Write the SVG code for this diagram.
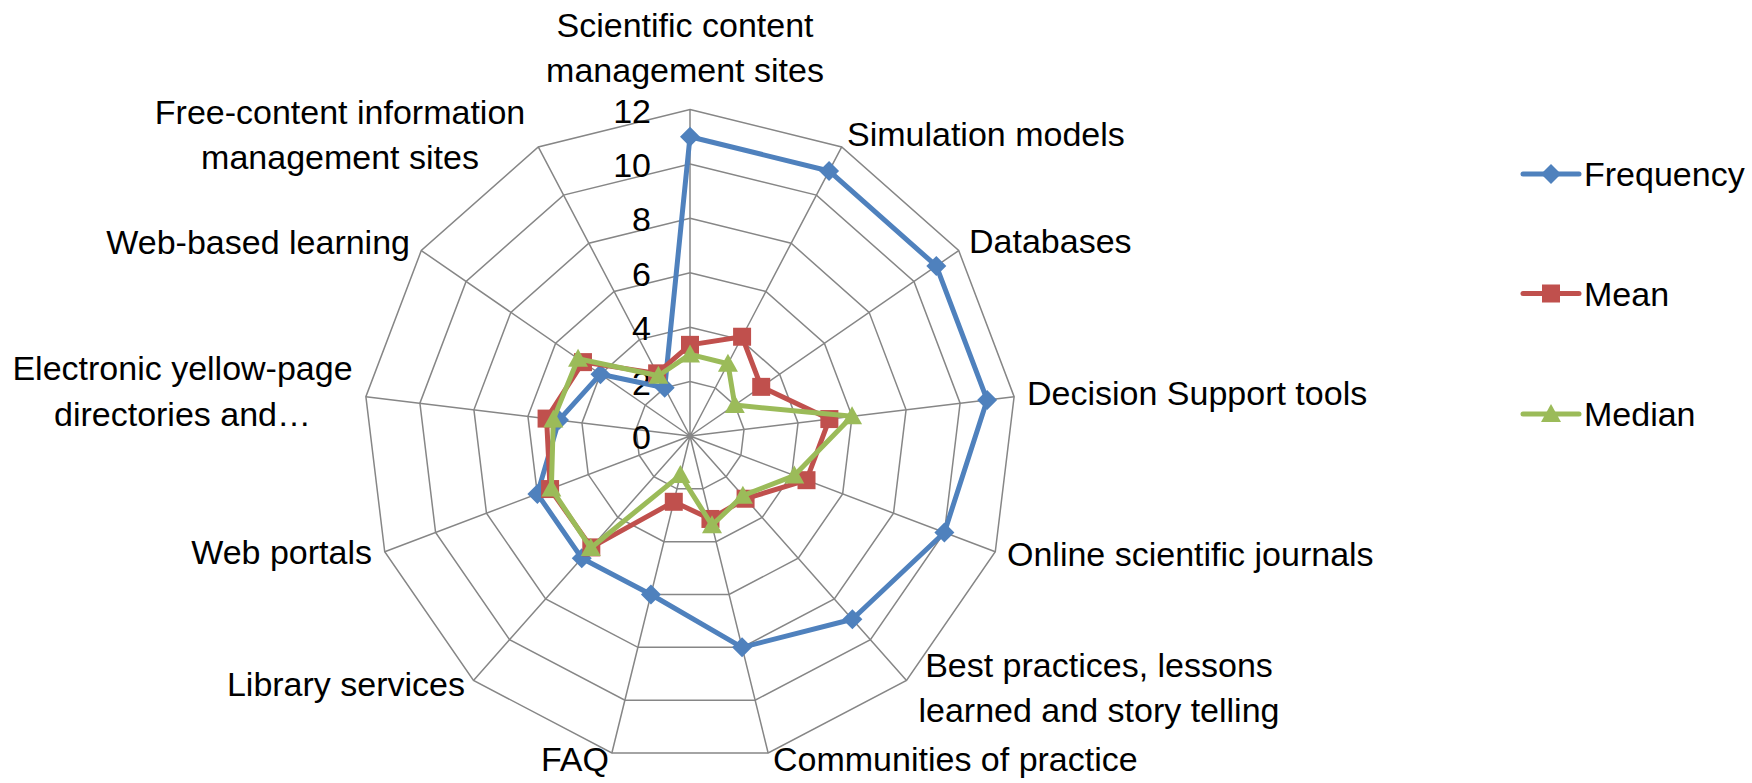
<svg xmlns="http://www.w3.org/2000/svg" xmlns:xlink="http://www.w3.org/1999/xlink" width="1752" height="783" viewBox="0 0 1752 783">
<style>
.t{font-family:"Liberation Sans",Arial,sans-serif;font-size:34px;fill:#000}
.grid{fill:none;stroke:#868686;stroke-width:1.5}
.s{fill:none;stroke-width:5;stroke-linejoin:round;stroke-linecap:round}
</style>
<defs>
<path id="dia" d="M0,-10 L10,0 L0,10 L-10,0Z" fill="#4F81BD"/>
<rect id="sq" x="-9" y="-9" width="18" height="18" fill="#C0504D"/>
<path id="tri" d="M0,-10 L10,8 L-10,8Z" fill="#9BBB59"/>
</defs>
<rect width="1752" height="783" fill="#fff"/>
<g id="grid" class="grid">
<polygon points="690,109.5 841.73,146.9 958.7,250.53 1014.12,396.64 995.28,551.78 906.51,680.39 768.14,753.01 611.86,753.01 473.49,680.39 384.72,551.78 365.88,396.64 421.3,250.53 538.27,146.9"/>
<polygon points="690,163.92 816.44,195.08 913.92,281.44 960.1,403.2 944.4,532.48 870.42,639.66 755.12,700.18 624.88,700.18 509.58,639.66 435.6,532.48 419.9,403.2 466.08,281.44 563.56,195.08"/>
<polygon points="690,218.33 791.15,243.27 869.13,312.35 906.08,409.76 893.52,513.19 834.34,598.93 742.09,647.34 637.91,647.34 545.66,598.93 486.48,513.19 473.92,409.76 510.87,312.35 588.85,243.27"/>
<polygon points="690,272.75 765.87,291.45 824.35,343.26 852.06,416.32 842.64,493.89 798.26,558.2 729.07,594.51 650.93,594.51 581.74,558.2 537.36,493.89 527.94,416.32 555.65,343.26 614.13,291.45"/>
<polygon points="690,327.17 740.58,339.63 779.57,374.18 798.04,422.88 791.76,474.59 762.17,517.46 716.05,541.67 663.95,541.67 617.83,517.46 588.24,474.59 581.96,422.88 600.43,374.18 639.42,339.63"/>
<polygon points="690,381.58 715.29,387.82 734.78,405.09 744.02,429.44 740.88,455.3 726.09,476.73 703.02,488.84 676.98,488.84 653.91,476.73 639.12,455.3 635.98,429.44 645.22,405.09 664.71,387.82"/>
<path d="M690,436 L690,109.5 M690,436 L841.73,146.9 M690,436 L958.7,250.53 M690,436 L1014.12,396.64 M690,436 L995.28,551.78 M690,436 L906.51,680.39 M690,436 L768.14,753.01 M690,436 L611.86,753.01 M690,436 L473.49,680.39 M690,436 L384.72,551.78 M690,436 L365.88,396.64 M690,436 L421.3,250.53 M690,436 L538.27,146.9"/>
</g>
<g id="ticks" class="t" text-anchor="end">
<text x="651" y="122.5">12</text>
<text x="651" y="177">10</text>
<text x="651" y="231.3">8</text>
<text x="651" y="285.8">6</text>
<text x="651" y="340.2">4</text>
<text x="651" y="394.6">2</text>
<text x="651" y="449">0</text>
</g>
<g id="connectors">
<g id="series-frequency">
<polygon class="s" stroke="#4F81BD" points="690,136.71 829.09,170.99 936.31,265.98 987.11,399.92 944.4,532.48 852.38,619.29 742.09,647.34 650.93,594.51 581.74,558.2 537.36,493.89 559,420.09 600.43,374.18 664.71,387.82"/>
<use xlink:href="#dia" x="690" y="136.71"/><use xlink:href="#dia" x="829.09" y="170.99"/><use xlink:href="#dia" x="936.31" y="265.98"/><use xlink:href="#dia" x="987.11" y="399.92"/><use xlink:href="#dia" x="944.4" y="532.48"/><use xlink:href="#dia" x="852.38" y="619.29"/><use xlink:href="#dia" x="742.09" y="647.34"/><use xlink:href="#dia" x="650.93" y="594.51"/><use xlink:href="#dia" x="581.74" y="558.2"/><use xlink:href="#dia" x="537.36" y="493.89"/><use xlink:href="#dia" x="559" y="420.09"/><use xlink:href="#dia" x="600.43" y="374.18"/><use xlink:href="#dia" x="664.71" y="387.82"/>
</g>
<g id="series-mean">
<polygon class="s" stroke="#C0504D" points="690,344.85 742.09,336.74 761.21,386.85 829.37,419.08 806.51,480.19 745.57,498.73 710.45,518.95 673.79,501.78 591.31,547.4 550.08,489.06 546.58,418.59 582.97,362.12 657.13,373.36"/>
<use xlink:href="#sq" x="690" y="344.85"/><use xlink:href="#sq" x="742.09" y="336.74"/><use xlink:href="#sq" x="761.21" y="386.85"/><use xlink:href="#sq" x="829.37" y="419.08"/><use xlink:href="#sq" x="806.51" y="480.19"/><use xlink:href="#sq" x="745.57" y="498.73"/><use xlink:href="#sq" x="710.45" y="518.95"/><use xlink:href="#sq" x="673.79" y="501.78"/><use xlink:href="#sq" x="591.31" y="547.4"/><use xlink:href="#sq" x="550.08" y="489.06"/><use xlink:href="#sq" x="546.58" y="418.59"/><use xlink:href="#sq" x="582.97" y="362.12"/><use xlink:href="#sq" x="657.13" y="373.36"/>
</g>
<g id="series-median">
<polygon class="s" stroke="#9BBB59" points="690,354.38 727.93,363.73 734.78,405.09 852.06,416.32 794.3,475.56 742.86,495.67 712.01,525.29 680.36,475.1 590.77,548.01 551.35,488.58 553.33,419.41 578.04,358.72 658.39,375.77"/>
<use xlink:href="#tri" x="690" y="354.38"/><use xlink:href="#tri" x="727.93" y="363.73"/><use xlink:href="#tri" x="734.78" y="405.09"/><use xlink:href="#tri" x="852.06" y="416.32"/><use xlink:href="#tri" x="794.3" y="475.56"/><use xlink:href="#tri" x="742.86" y="495.67"/><use xlink:href="#tri" x="712.01" y="525.29"/><use xlink:href="#tri" x="680.36" y="475.1"/><use xlink:href="#tri" x="590.77" y="548.01"/><use xlink:href="#tri" x="551.35" y="488.58"/><use xlink:href="#tri" x="553.33" y="419.41"/><use xlink:href="#tri" x="578.04" y="358.72"/><use xlink:href="#tri" x="658.39" y="375.77"/>
</g>
</g>
<g id="label-scientific" class="t" text-anchor="middle"><text x="685" y="37">Scientific content</text><text x="685" y="82">management sites</text></g>
<g id="label-simulation" class="t"><text x="847" y="146">Simulation models</text></g>
<g id="label-databases" class="t"><text x="969" y="253">Databases</text></g>
<g id="label-decision" class="t"><text x="1027" y="405">Decision Support tools</text></g>
<g id="label-journals" class="t"><text x="1007" y="566">Online scientific journals</text></g>
<g id="label-best" class="t" text-anchor="middle"><text x="1099" y="677">Best practices, lessons</text><text x="1099" y="722">learned and story telling</text></g>
<g id="label-communities" class="t"><text x="773" y="771">Communities of practice</text></g>
<g id="label-faq" class="t" text-anchor="end"><text x="609" y="771">FAQ</text></g>
<g id="label-library" class="t" text-anchor="end"><text x="465" y="696">Library services</text></g>
<g id="label-portals" class="t" text-anchor="end"><text x="372" y="564">Web portals</text></g>
<g id="label-yellow" class="t" text-anchor="middle"><text x="182.5" y="380">Electronic yellow-page</text><text x="182.5" y="426">directories and…</text></g>
<g id="label-web-learning" class="t" text-anchor="end"><text x="410" y="254">Web-based learning</text></g>
<g id="label-free" class="t" text-anchor="middle"><text x="340" y="124">Free-content information</text><text x="340" y="169">management sites</text></g>
<g id="legend">
<line x1="1523" y1="174" x2="1579" y2="174" stroke="#4F81BD" stroke-width="5" stroke-linecap="round"/>
<use xlink:href="#dia" x="1551" y="174"/>
<text class="t" x="1584" y="186">Frequency</text>
<line x1="1523" y1="293.5" x2="1579" y2="293.5" stroke="#C0504D" stroke-width="5" stroke-linecap="round"/>
<use xlink:href="#sq" x="1551" y="293.5"/>
<text class="t" x="1584" y="305.5">Mean</text>
<line x1="1523" y1="414" x2="1579" y2="414" stroke="#9BBB59" stroke-width="5" stroke-linecap="round"/>
<use xlink:href="#tri" x="1551" y="414"/>
<text class="t" x="1584" y="426">Median</text>
</g>
</svg>
